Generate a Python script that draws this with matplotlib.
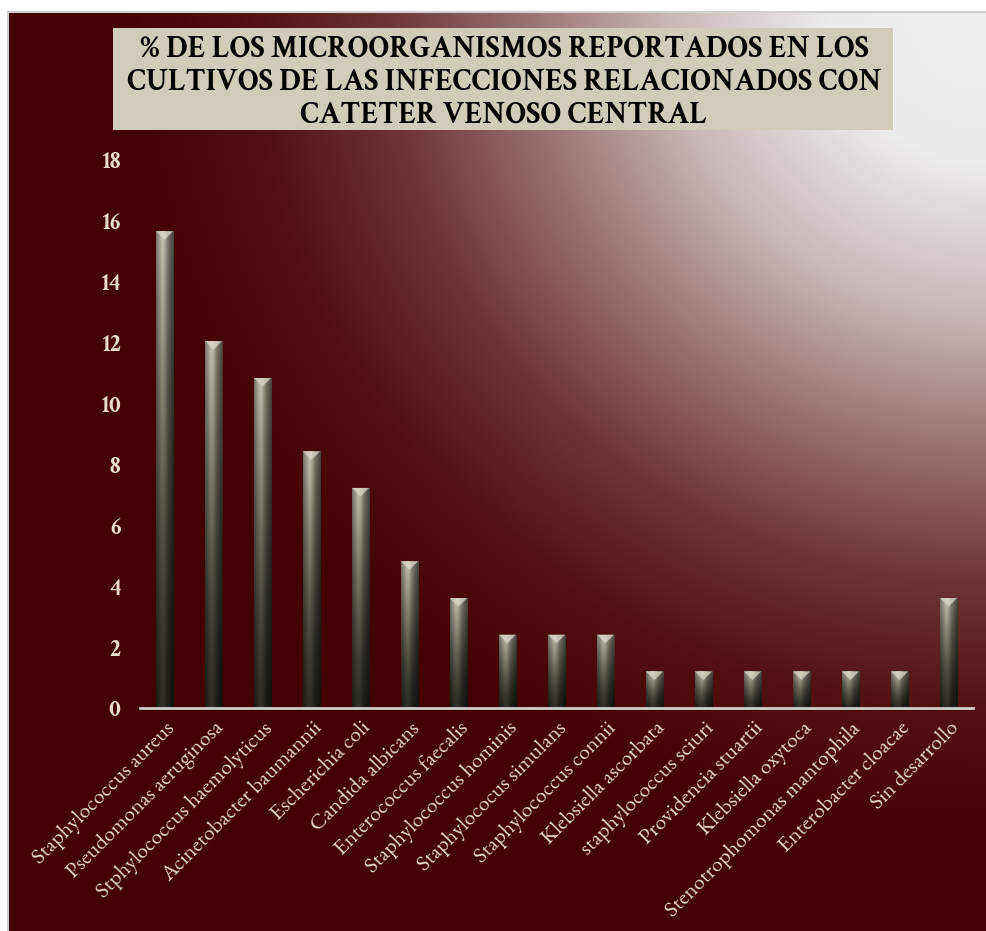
import numpy as np
import matplotlib
matplotlib.use('Agg')
import matplotlib.pyplot as plt
from matplotlib.colors import LinearSegmentedColormap
from matplotlib.patches import Rectangle, Polygon
from matplotlib.transforms import ScaledTranslation

categories = ['Staphylococcus aureus', 'Pseudomonas aeruginosa', 'Stphylococcus haemolyticus',
              'Acinetobacter baumannii', 'Escherichia coli', 'Candida albicans',
              'Enterococcus faecalis', 'Staphylococcus hominis', 'Staphylococus simulans',
              'Staphylococcus connii', 'Klebsiella ascorbata', 'staphylococcus sciuri',
              'Providencia stuartii', 'Klebsiella oxytoca', 'Stenotrophomonas mantophila',
              'Enterobacter cloacae', 'Sin desarrollo']
values = [15.66, 12.05, 10.84, 8.43, 7.23, 4.82, 3.61, 2.41, 2.41, 2.41,
          1.20, 1.20, 1.20, 1.20, 1.20, 1.20, 3.61]
yticks = list(range(0, 19, 2))
title = ('% DE LOS MICROORGANISMOS REPORTADOS EN LOS\n'
         'CULTIVOS DE LAS INFECCIONES RELACIONADOS CON\n'
         'CATETER VENOSO CENTRAL')

W, H = 987, 931
serif_bold = ['Crimson Text', 'Liberation Serif']
serif = ['EB Garamond', 'Liberation Serif']
label_color = '#e8dcc6'

fig = plt.figure(figsize=(W / 100, H / 100), dpi=100)
fig.patch.set_facecolor('white')

# background canvas in pixel coords
bg = fig.add_axes([0, 0, 1, 1])
bg.axis('off')

# radial gradient from the top-right corner
gx, gy = np.meshgrid(np.arange(9, W), np.arange(13, H))
d = np.hypot((gx - W) * 0.95, gy - 12)
stops = [(0, '#f0f0f0'), (150 / 900, '#ececec'), (300 / 900, '#cab8b8'),
         (440 / 900, '#987070'), (570 / 900, '#6e3434'), (700 / 900, '#521010'),
         (840 / 900, '#420000'), (1.0, '#420000')]
cmap_bg = LinearSegmentedColormap.from_list('bg', stops)
bg.imshow(np.clip(d / 900, 0, 1), cmap=cmap_bg, vmin=0, vmax=1,
          extent=(9, W, H, 13), aspect='auto', interpolation='bilinear')
bg.plot([8, 8], [12, H], color='#d0d0d0', lw=1.5)
bg.plot([8, W], [12, 12], color='#d0d0d0', lw=1.5)
bg.set_xlim(0, W)
bg.set_ylim(H, 0)

# title box
bg.add_patch(Rectangle((113, 28), 780, 102, facecolor='#d0ccb8', edgecolor='none'))
bg.text(504, 83, title, ha='center', va='center', fontsize=22, fontweight='bold',
        fontfamily=serif_bold, color='black', linespacing=1.2)

# plot axes
ax = fig.add_axes([140 / W, 1 - 708 / H, 833 / W, 548 / H])
ax.patch.set_alpha(0)
x = np.arange(len(categories))
width = 0.35

# cylinder shading image for the bars
u = np.linspace(0, 1, 40)
prof = 0.72 + 0.38 * np.exp(-((u - 0.38) / 0.22) ** 2) - 0.35 * u ** 3
prof[:3] *= 0.9
v = np.linspace(0, 1, 200)[:, None]
dark = np.array([0.17, 0.17, 0.14])
light = np.array([0.72, 0.70, 0.63])
shade = dark + (light - dark) * (v ** 1.4)[..., None]
img = np.clip(shade * prof[None, :, None], 0, 1)

bars = ax.bar(x, values, width, facecolor='none', edgecolor='none')
for b, xi, val in zip(bars, x, values):
    im = ax.imshow(img, extent=(xi - width / 2, xi + width / 2, 0, val),
                   origin='lower', aspect='auto', interpolation='bilinear')
    im.set_clip_path(b)
    cap = 0.28
    ax.add_patch(Polygon([(xi - width / 2, val), (xi + width / 2, val), (xi, val - cap)],
                         closed=True, facecolor='#dcd8c8', edgecolor='none', alpha=0.75))

ax.set_xlim(-0.5, len(categories) - 0.5)
ax.set_ylim(0, 18)
ax.set_yticks(yticks)
ax.set_yticklabels([str(t) for t in yticks], fontsize=17, fontweight='bold',
                   fontfamily=serif_bold, color=label_color)
ax.set_xticks(x)
ax.set_xticklabels(categories, rotation=45, ha='right', va='top',
                   rotation_mode='anchor', fontsize=16, fontfamily=serif,
                   color=label_color)
offset = ScaledTranslation(7 / 100, 0, fig.dpi_scale_trans)
for lbl in ax.get_xticklabels():
    lbl.set_transform(lbl.get_transform() + offset)
ax.tick_params(axis='both', length=0)
ax.tick_params(axis='y', pad=14)
ax.tick_params(axis='x', pad=7)
for s in ['top', 'right', 'left']:
    ax.spines[s].set_visible(False)
ax.spines['bottom'].set_color('#cfcfcf')
ax.spines['bottom'].set_linewidth(2)

fig.savefig('out.png', dpi=100)
